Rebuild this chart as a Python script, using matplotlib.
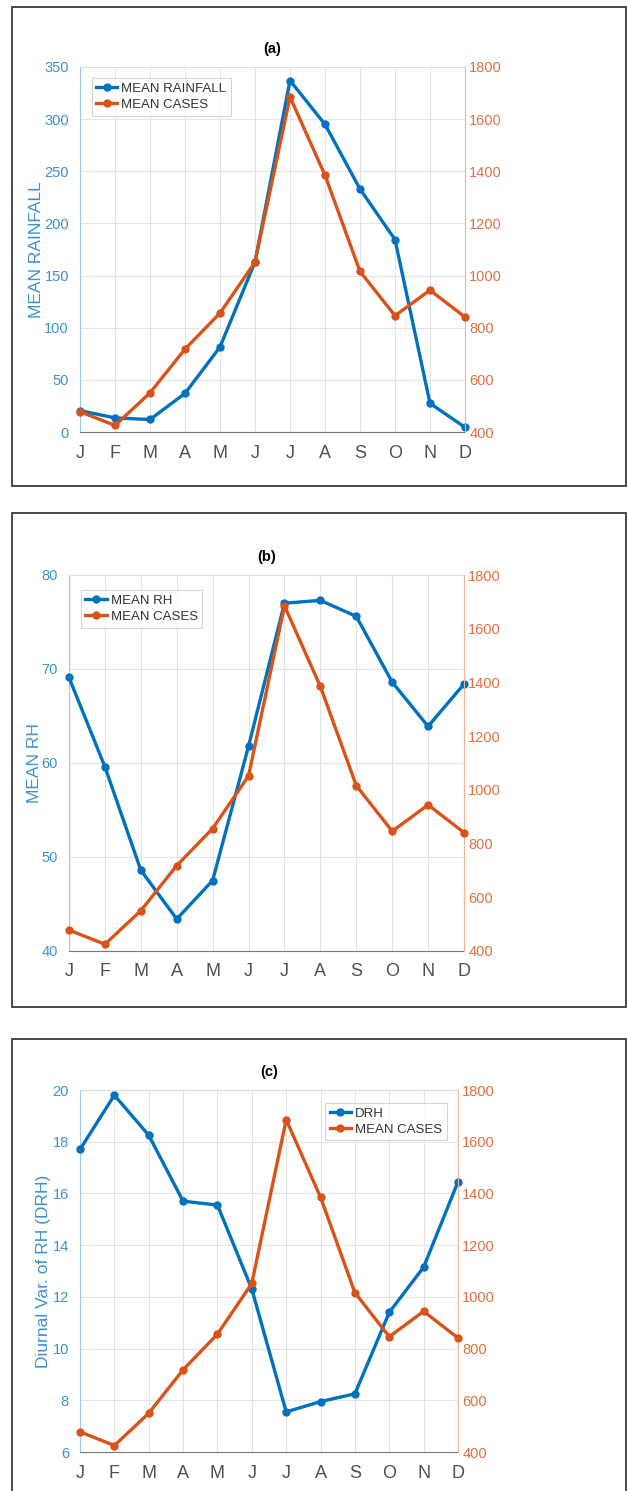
import matplotlib

matplotlib.use("Agg")
import matplotlib.pyplot as plt
from matplotlib.patches import Rectangle

plt.rcParams["font.family"] = ["Liberation Sans", "DejaVu Sans"]

months = ["J", "F", "M", "A", "M", "J", "J", "A", "S", "O", "N", "D"]
mean_cases = [478, 425, 550, 718, 856, 1052, 1685, 1385, 1016, 846, 944, 841]
mean_rainfall = [20.5, 13.5, 12.0, 37.0, 81.5, 163.0, 337.0, 295.0, 233.0, 184.5, 27.5, 4.5]
mean_rh = [69.1, 59.6, 48.6, 43.4, 47.5, 61.8, 77.0, 77.3, 75.6, 68.6, 63.9, 68.4]
drh = [17.7, 19.8, 18.25, 15.7, 15.55, 12.3, 7.55, 7.95, 8.25, 11.4, 13.15, 16.45]

BLUE = "#0072BD"
ORANGE = "#D95319"
BLUE_TXT = "#3b92d0"
ORANGE_TXT = "#e0703f"

W, H = 627, 1491
fig = plt.figure(figsize=(W / 100, H / 100), dpi=100)


def fig_rect(x0, y0, x1, y1):
    """pixel box (top-left origin) -> figure fraction [l, b, w, h]"""
    return [x0 / W, 1 - y1 / H, (x1 - x0) / W, (y1 - y0) / H]


def panel(rect, frame, title, left_vals, left_label, left_lim, left_ticks,
          left_name, legend_loc, legend_anchor, label_pad):
    # outer frame around the panel
    fx0, fy0, fx1, fy1 = frame
    fig.patches.append(Rectangle((fx0 / W, 1 - fy1 / H), (fx1 - fx0) / W,
                                 (fy1 - fy0) / H, transform=fig.transFigure,
                                 fill=False, edgecolor="#3a3a3a", lw=1.3))
    ax = fig.add_axes(fig_rect(*rect))
    x = list(range(len(months)))
    l1, = ax.plot(x, left_vals, "-o", color=BLUE, lw=2.4, ms=5,
                  label=left_name, zorder=3, clip_on=False)
    ax.set_xlim(0, len(months) - 1)
    ax.set_ylim(*left_lim)
    ax.set_yticks(left_ticks)
    ax.set_xticks(x, months)
    ax.grid(True, color="#e4e4e4", lw=0.8)
    ax.set_axisbelow(True)
    ax.tick_params(axis="y", colors=BLUE_TXT, labelsize=10.5, length=0, pad=8)
    ax.tick_params(axis="x", colors="#505050", labelsize=13, length=0, pad=9)
    ax.set_ylabel(left_label, color=BLUE_TXT, fontsize=12.5, labelpad=label_pad)
    ax.set_title(title, fontsize=10.5, fontweight="bold", pad=10)
    ax.spines["left"].set_color("#9cc8e8")
    ax.spines["bottom"].set_color("#777777")
    ax.spines["top"].set_color("#dddddd")
    ax.spines["right"].set_visible(False)

    ax2 = ax.twinx()
    l2, = ax2.plot(x, mean_cases, "-o", color=ORANGE, lw=2.4, ms=5,
                   label="MEAN CASES", zorder=3, clip_on=False)
    ax2.set_ylim(400, 1800)
    ax2.set_yticks(range(400, 1801, 200))
    ax2.tick_params(axis="y", colors=ORANGE_TXT, labelsize=10.5, length=0, pad=3)
    ax2.spines["right"].set_color("#f0b49a")
    for s in ("left", "top", "bottom"):
        ax2.spines[s].set_visible(False)

    leg = ax2.legend([l1, l2], [left_name, "MEAN CASES"], loc=legend_loc,
                     bbox_to_anchor=legend_anchor, fontsize=9.5,
                     frameon=True, fancybox=False, handlelength=1.6,
                     handletextpad=0.3, borderpad=0.35, labelspacing=0.3,
                     borderaxespad=0)
    leg.get_frame().set_edgecolor("#cccccc")
    leg.get_frame().set_linewidth(0.8)
    for t in leg.get_texts():
        t.set_color("#333333")


panel((80, 67, 465, 432), (12, 7, 626, 486), "(a)", mean_rainfall,
      "MEAN RAINFALL", (0, 350), range(0, 351, 50), "MEAN RAINFALL",
      "upper left", (0.03, 0.97), 0)
panel((69, 575, 464, 951), (12, 513, 626, 1007), "(b)", mean_rh,
      "MEAN RH", (40, 80), range(40, 81, 10), "MEAN RH",
      "upper left", (0.03, 0.96), 0)
panel((80, 1090, 458, 1452), (12, 1039, 626, 1520), "(c)", drh,
      "Diurnal Var. of RH (DRH)", (6, 20), range(6, 21, 2), "DRH",
      "upper right", (0.97, 0.965), 1)

fig.savefig("out.png", dpi=100)
